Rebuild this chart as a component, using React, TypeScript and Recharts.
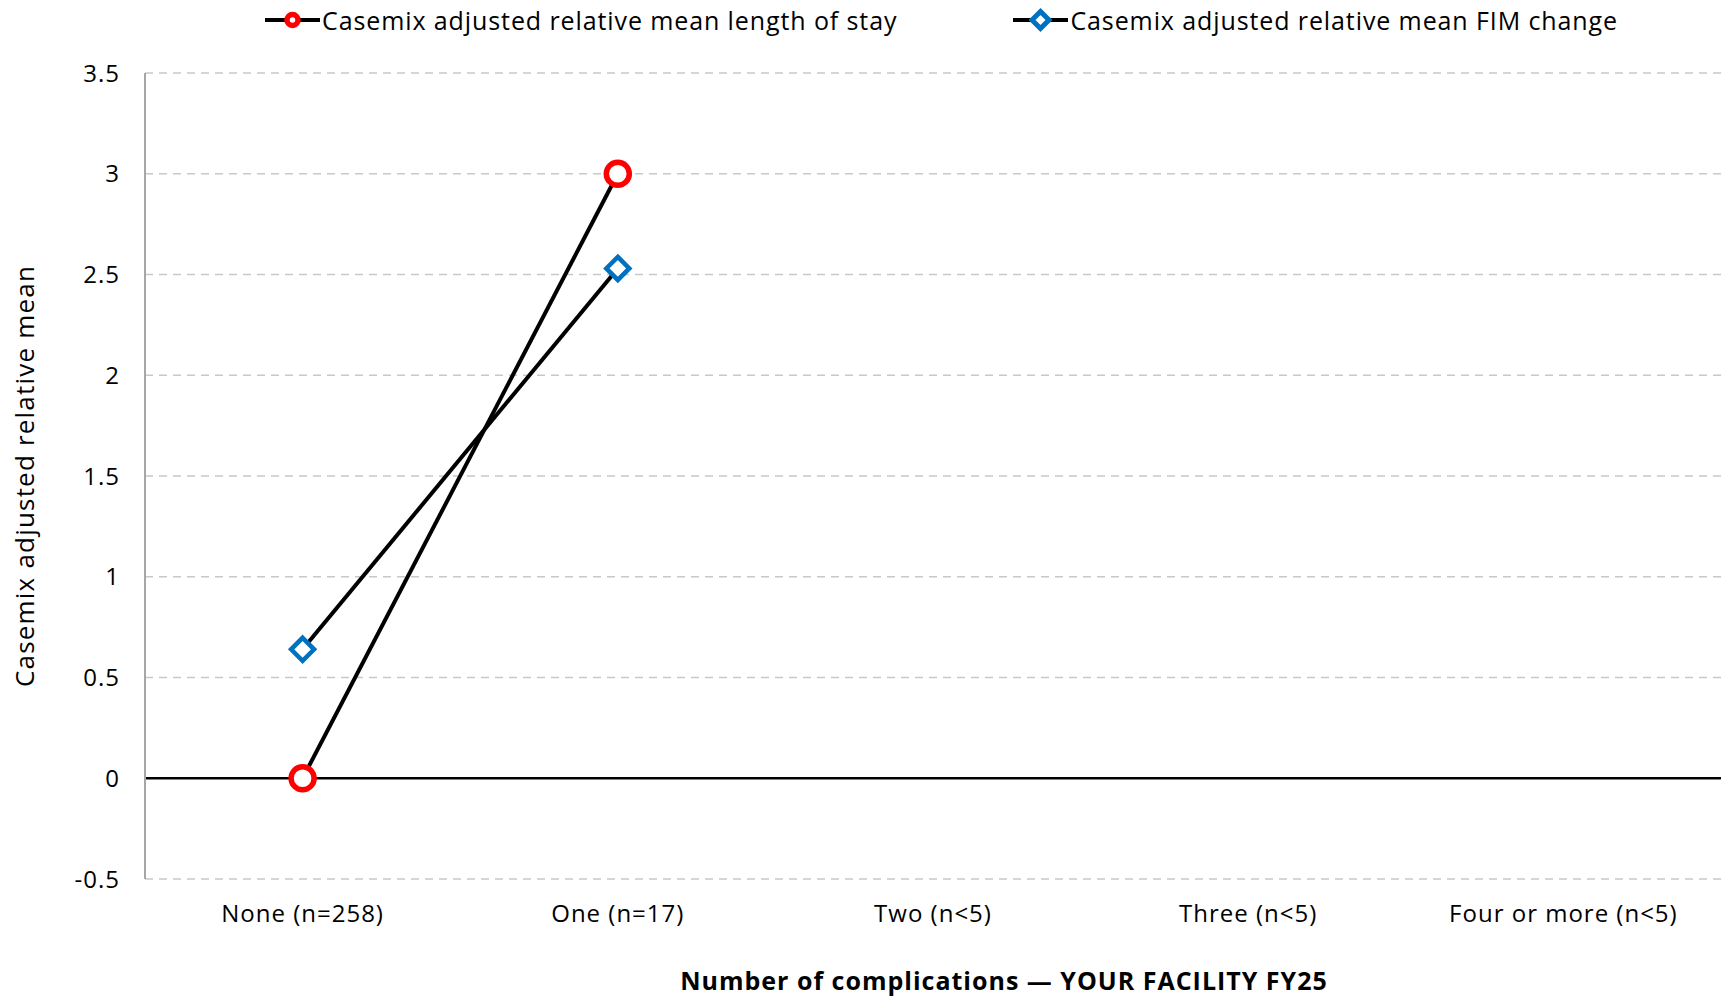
import React from 'react';
import { ComposedChart, Line, XAxis, YAxis, CartesianGrid, Legend, ReferenceLine, Label } from 'recharts';

const categories = ['None (n=258)', 'One (n=17)', 'Two (n<5)', 'Three (n<5)', 'Four or more (n<5)'];
const losValues: (number | null)[] = [0, 3, null, null, null];
const fimValues: (number | null)[] = [0.64, 2.53, null, null, null];
const yTicks = [-0.5, 0, 0.5, 1, 1.5, 2, 2.5, 3, 3.5];

const LOS_NAME = 'Casemix adjusted relative mean length of stay';
const FIM_NAME = 'Casemix adjusted relative mean FIM change';
const RED = '#FF0000';
const BLUE = '#0070C0';
const FONT = '"Open Sans", Lato, sans-serif';

const data = categories.map((c, i) => ({ cat: c, los: losValues[i], fim: fimValues[i] }));

const CircleDot = (props: any) => {
  const { cx, cy, value } = props;
  if (value == null || cx == null || cy == null) return <g />;
  return <circle cx={cx} cy={cy} r={11.5} fill="#fff" stroke={RED} strokeWidth={5.5} />;
};

const DiamondDot = (props: any) => {
  const { cx, cy, value } = props;
  if (value == null || cx == null || cy == null) return <g />;
  const s = 11.5;
  return (
    <path
      d={`M${cx},${cy - s}L${cx + s},${cy}L${cx},${cy + s}L${cx - s},${cy}Z`}
      fill="#fff"
      stroke={BLUE}
      strokeWidth={4.5}
      strokeLinejoin="miter"
    />
  );
};

const LegendContent = () => (
  <div style={{ display: 'flex', alignItems: 'center', fontFamily: FONT, fontSize: 25, letterSpacing: 0.9, color: '#000', paddingLeft: 265, whiteSpace: 'nowrap' }}>
    <svg width={55} height={26} style={{ marginRight: 2 }}>
      <line x1={0} y1={13} x2={55} y2={13} stroke="#000" strokeWidth={4} />
      <circle cx={27.5} cy={13} r={5.5} fill="#fff" stroke={RED} strokeWidth={5.5} />
    </svg>
    <span>{LOS_NAME}</span>
    <svg width={55} height={26} style={{ marginLeft: 116, marginRight: 2 }}>
      <line x1={0} y1={13} x2={55} y2={13} stroke="#000" strokeWidth={4} />
      <path d="M27.5,4.5L36,13L27.5,21.5L19,13Z" fill="#fff" stroke={BLUE} strokeWidth={5} />
    </svg>
    <span>{FIM_NAME}</span>
  </div>
);

export default function App() {
  return (
    <div style={{ position: 'absolute', left: 0, top: 0, width: 1729, height: 998, background: '#fff' }}>
      <ComposedChart width={1729} height={998} data={data} margin={{ top: 39, right: 8, bottom: 89, left: 0 }}>
        <CartesianGrid vertical={false} stroke="#c8c8c8" strokeDasharray="8 6" strokeWidth={1.5} />
        <XAxis
          dataKey="cat"
          scale="band"
          axisLine={false}
          tickLine={false}
          tickSize={6}
          tickMargin={20}
          tick={{ fill: '#000', fontSize: 24, fontFamily: FONT, letterSpacing: 1 }}
          interval={0}
        >
          <Label
            content={() => (
              <text x={1004} y={990} textAnchor="middle" fontFamily={FONT} fontSize={25} letterSpacing={1} fontWeight="bold" fill="#000">
                Number of complications — YOUR FACILITY FY25
              </text>
            )}
          />
        </XAxis>
        <YAxis
          width={145}
          domain={[-0.5, 3.5]}
          ticks={yTicks}
          tickFormatter={(v: number) => String(v)}
          axisLine={{ stroke: '#a6a6a6', strokeWidth: 2 }}
          tickLine={false}
          tickSize={6}
          tickMargin={19}
          tick={{ fill: '#000', fontSize: 24, fontFamily: FONT, letterSpacing: 1 }}
        >
          <Label
            content={() => (
              <text
                x={24}
                y={476}
                transform="rotate(-90 24 476)"
                textAnchor="middle"
                dominantBaseline="central"
                fontFamily={FONT}
                fontSize={26}
                letterSpacing={1.2}
                fill="#000"
              >
                Casemix adjusted relative mean
              </text>
            )}
          />
        </YAxis>
        <ReferenceLine y={0} stroke="#000" strokeWidth={2.5} />
        <Legend verticalAlign="top" align="left" wrapperStyle={{ top: 3, left: 0, width: 1729 }} content={LegendContent} />
        <Line
          type="linear"
          dataKey="los"
          name={LOS_NAME}
          stroke="#000"
          strokeWidth={4}
          dot={CircleDot}
          activeDot={false}
          connectNulls={false}
          isAnimationActive={false}
        />
        <Line
          type="linear"
          dataKey="fim"
          name={FIM_NAME}
          stroke="#000"
          strokeWidth={4}
          dot={DiamondDot}
          activeDot={false}
          connectNulls={false}
          isAnimationActive={false}
        />
      </ComposedChart>
    </div>
  );
}
